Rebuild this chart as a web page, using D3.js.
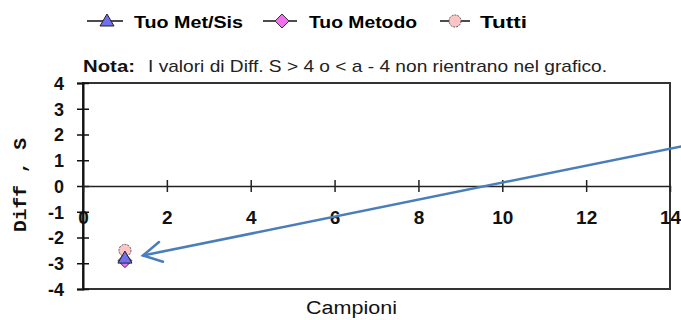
<!DOCTYPE html>
<html>
<head>
<meta charset="utf-8">
<script src="https://cdn.jsdelivr.net/npm/d3@7"></script>
<style>
  body { margin: 0; background: #fff; }
  svg { display: block; font-family: Arial, "Liberation Sans", sans-serif; }
</style>
</head>
<body>
<div id="chart"></div>
<script>
// chart data
var xTicks = [0, 2, 4, 6, 8, 10, 12, 14];
var yTicks = [-4, -3, -2, -1, 0, 1, 2, 3, 4];
var seriesNames = ['Tuo Met/Sis', 'Tuo Metodo', 'Tutti'];
var seriesX = [1, 1, 1];
var seriesY = [-2.8, -2.9, -2.5];
// arrow annotation, in data units: from (off the right edge) to the points
var arrowFrom = [14.3, 1.55];
var arrowTo = [1.43, -2.7];

var W = 681, H = 320;
var svg = d3.select('#chart').append('svg')
    .attr('width', W)
    .attr('height', H);

var x = d3.scaleLinear().domain([0, 14]).range([83, 670]);
var y = d3.scaleLinear().domain([-4, 4]).range([289, 83]);

// legend
var legend = [
    {name: seriesNames[0], shape: 'tri', fill: '#7070ee', cx: 107, tx: 134, tw: 109, l0: 87, l1: 123},
    {name: seriesNames[1], shape: 'dia', fill: '#f070f0', cx: 282, tx: 309, tw: 108, l0: 263, l1: 297},
    {name: seriesNames[2], shape: 'cir', fill: '#ffc4c4', cx: 455, tx: 480, tw: 47, l0: 440, l1: 470}
];

function marker(g, shape, fill, cx, cy, s){
    s = s || 1;
    if( shape === 'tri' ){
        g.append('path')
            .attr('d', 'M' + cx + ',' + (cy - 7*s) + 'L' + (cx + 7*s) + ',' + (cy + 5*s) + 'L' + (cx - 7*s) + ',' + (cy + 5*s) + 'Z')
            .attr('fill', fill).attr('stroke', '#222').attr('stroke-width', 1);
    } else if( shape === 'dia' ){
        g.append('path')
            .attr('d', 'M' + cx + ',' + (cy - 7*s) + 'L' + (cx + 7*s) + ',' + cy + 'L' + cx + ',' + (cy + 7*s) + 'L' + (cx - 7*s) + ',' + cy + 'Z')
            .attr('fill', fill).attr('stroke', '#333').attr('stroke-width', 1);
    } else {
        g.append('circle')
            .attr('cx', cx).attr('cy', cy).attr('r', 6*s)
            .attr('fill', fill).attr('stroke', '#555').attr('stroke-width', 1)
            .attr('stroke-dasharray', '2,1');
    }
}

var lg = svg.append('g');
legend.forEach(function(d){
    lg.append('line')
        .attr('x1', d.l0).attr('x2', d.l1)
        .attr('y1', 21).attr('y2', 21)
        .attr('stroke', '#111').attr('stroke-width', 1.5);
    marker(lg, d.shape, d.fill, d.cx, 21);
    lg.append('text')
        .attr('x', d.tx).attr('y', 28)
        .attr('font-size', 17).attr('font-weight', 'bold')
        .attr('textLength', d.tw).attr('lengthAdjust', 'spacingAndGlyphs')
        .text(d.name);
});

// note
svg.append('text')
    .attr('x', 83).attr('y', 72)
    .attr('font-size', 17).attr('font-weight', 'bold')
    .attr('textLength', 52).attr('lengthAdjust', 'spacingAndGlyphs')
    .attr('fill', '#111')
    .text('Nota:');
svg.append('text')
    .attr('x', 148).attr('y', 72)
    .attr('font-size', 17)
    .attr('textLength', 459).attr('lengthAdjust', 'spacingAndGlyphs')
    .attr('fill', '#222')
    .text('I valori di Diff. S > 4 o < a - 4 non rientrano nel grafico.');

// plot frame
svg.append('rect')
    .attr('x', x(0)).attr('y', y(4))
    .attr('width', x(14) - x(0)).attr('height', y(-4) - y(4))
    .attr('fill', 'none').attr('stroke', '#333').attr('stroke-width', 2);

// y axis
var yAxis = svg.append('g')
    .attr('transform', 'translate(' + x(0) + ',0)')
    .call(d3.axisLeft(y).tickValues(yTicks).tickSize(6).tickFormat(d3.format('d')))
    .attr('font-family', null);
yAxis.select('.domain').attr('stroke', '#111').attr('stroke-width', 2);
yAxis.selectAll('.tick line').attr('x1', -6).attr('x2', 6).attr('stroke', '#111').attr('stroke-width', 1.5);
yAxis.selectAll('.tick text')
    .attr('x', -19).attr('dy', '0.36em')
    .attr('font-size', 18).attr('font-weight', 'bold')
    .attr('fill', '#111')
    .text(function(d){ return d < 0 ? '-' + Math.abs(d) : d; });

// x axis on the zero line
var xAxis = svg.append('g')
    .attr('transform', 'translate(0,' + y(0) + ')')
    .call(d3.axisBottom(x).tickValues(xTicks).tickSize(6).tickFormat(d3.format('d')))
    .attr('font-family', null);
xAxis.select('.domain').attr('stroke', '#222').attr('stroke-width', 1.5);
xAxis.selectAll('.tick line').attr('y1', -6).attr('y2', 6).attr('stroke', '#222').attr('stroke-width', 1.5)
    .attr('display', function(d){ return d === 0 || d === 14 ? 'none' : null; });
xAxis.selectAll('.tick text')
    .attr('y', 25)
    .attr('font-size', 19).attr('font-weight', 'bold')
    .attr('fill', '#111');

// axis titles
svg.append('text')
    .attr('transform', 'translate(26,185) rotate(-90)')
    .attr('text-anchor', 'middle')
    .style('font-family', '"Liberation Mono", "Courier New", monospace')
    .attr('font-size', 18).attr('font-weight', 'bold')
    .attr('textLength', 94).attr('lengthAdjust', 'spacingAndGlyphs')
    .attr('fill', '#111')
    .text('Diff , S');
svg.append('text')
    .attr('x', 306).attr('y', 314)
    .attr('font-size', 18)
    .attr('textLength', 91).attr('lengthAdjust', 'spacingAndGlyphs')
    .attr('fill', '#111')
    .text('Campioni');

// points: Tuo Metodo under Tuo Met/Sis, Tutti on top
var pts = svg.append('g');
[1, 2, 0].forEach(function(i){
    marker(pts, legend[i].shape, legend[i].fill, x(seriesX[i]), y(seriesY[i]));
});

// arrow annotation
var ax0 = x(arrowFrom[0]), ay0 = y(arrowFrom[1]);
var ax1 = x(arrowTo[0]), ay1 = y(arrowTo[1]);
var ang = Math.atan2(ay0 - ay1, ax0 - ax1);
var head = 21, spread = 0.5;
var ar = svg.append('g')
    .attr('stroke', '#4a7ebb').attr('stroke-width', 2.5)
    .attr('fill', 'none').attr('stroke-linecap', 'round');
ar.append('line')
    .attr('x1', ax0).attr('y1', ay0)
    .attr('x2', ax1).attr('y2', ay1);
ar.append('path')
    .attr('d', 'M' + (ax1 + head*Math.cos(ang - spread)) + ',' + (ay1 + head*Math.sin(ang - spread)) +
        'L' + ax1 + ',' + ay1 +
        'L' + (ax1 + head*Math.cos(ang + spread)) + ',' + (ay1 + head*Math.sin(ang + spread)));
</script>
</body>
</html>
